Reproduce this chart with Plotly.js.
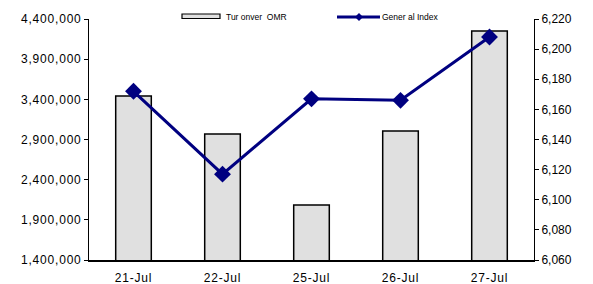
<!DOCTYPE html>
<html><head><script src="https://cdn.plot.ly/plotly-3.0.1.min.js"></script>
<style>body{margin:0}#c{width:593px;height:284px}
.yaxislayer-above text,.xaxislayer-above text{letter-spacing:0.8px}</style></head>
<body><div id="c"></div>
<script>
const dates = ["21-Jul","22-Jul","25-Jul","26-Jul","27-Jul"];
const turnover = [3440000, 2968000, 2085000, 3006000, 4251000];
const generalIndex = [6172, 6117, 6167, 6166, 6208];
const leftTicks = [1400000,1900000,2400000,2900000,3400000,3900000,4400000];
const rightTicks = [6060,6080,6100,6120,6140,6160,6180,6200,6220];
const legendNames = ["Tur onver  OMR", "Gener al Index"];

const fnt = {family:"Liberation Sans, Arial, sans-serif", size:12, color:"#000"};
const lfnt = {family:"Liberation Sans, Arial, sans-serif", size:8.5, color:"#000"};
const W = 445, H = 241;
const px = v => (v-89)/W, py = v => (260-v)/H;
const dcx = px(359), dcy = py(17), dx = 4/W, dy = 4/H;
Plotly.newPlot("c", [
 {type:"bar", x:dates, y:turnover, name:legendNames[0], width:0.4,
  marker:{color:"#e0e0e0", line:{color:"#000", width:1.5}}},
 {type:"scatter", mode:"lines+markers", x:dates, y:generalIndex, yaxis:"y2", name:legendNames[1],
  line:{color:"#000080", width:3}, marker:{symbol:"diamond", size:13, color:"#000080"}}
], {
 width:593, height:284, margin:{l:89, r:59, t:19, b:24},
 paper_bgcolor:"#fff", plot_bgcolor:"#fff",
 font:fnt, showlegend:false,
 xaxis:{showline:true, linecolor:"#000", linewidth:1.5, ticks:"", tickfont:fnt, showgrid:false, ticklabelstandoff:6},
 yaxis:{range:[1400000,4400000], tickvals:leftTicks, ticktext:leftTicks.map(v=>v.toLocaleString("en-US")),
   showline:true, linecolor:"#000", linewidth:1, ticks:"outside", ticklen:4, tickcolor:"#000",
   showgrid:false, zeroline:false, tickfont:fnt},
 yaxis2:{range:[6060,6220], tickvals:rightTicks, ticktext:rightTicks.map(v=>v.toLocaleString("en-US")),
   overlaying:"y", side:"right", showline:true, linecolor:"#000", linewidth:1, ticks:"outside", ticklen:4,
   tickcolor:"#000", showgrid:false, zeroline:false, tickfont:fnt},
 yaxis3:{range:[6060,6220], tickvals:rightTicks, showticklabels:false, overlaying:"y", side:"right",
   showline:false, ticks:"inside", ticklen:4, tickcolor:"#000", showgrid:false, zeroline:false},
 shapes:[
  {type:"rect", xref:"paper", yref:"paper", x0:px(182), x1:px(220), y0:py(18.5), y1:py(14),
   fillcolor:"#e0e0e0", line:{color:"#000", width:1.2}},
  {type:"line", xref:"paper", yref:"paper", x0:px(337), x1:px(380), y0:dcy, y1:dcy,
   line:{color:"#000080", width:3}},
  {type:"path", xref:"paper", yref:"paper",
   path:`M ${dcx},${dcy+dy} L ${dcx+dx},${dcy} L ${dcx},${dcy-dy} L ${dcx-dx},${dcy} Z`,
   fillcolor:"#000080", line:{color:"#000080", width:0}}
 ],
 annotations:[
  {xref:"paper", yref:"paper", x:px(224), y:py(16.5), xanchor:"left", yanchor:"middle", text:legendNames[0], showarrow:false, font:lfnt},
  {xref:"paper", yref:"paper", x:px(380), y:py(16.5), xanchor:"left", yanchor:"middle", text:legendNames[1], showarrow:false, font:lfnt}
 ]
}, {displayModeBar:false, staticPlot:true});
</script></body></html>
